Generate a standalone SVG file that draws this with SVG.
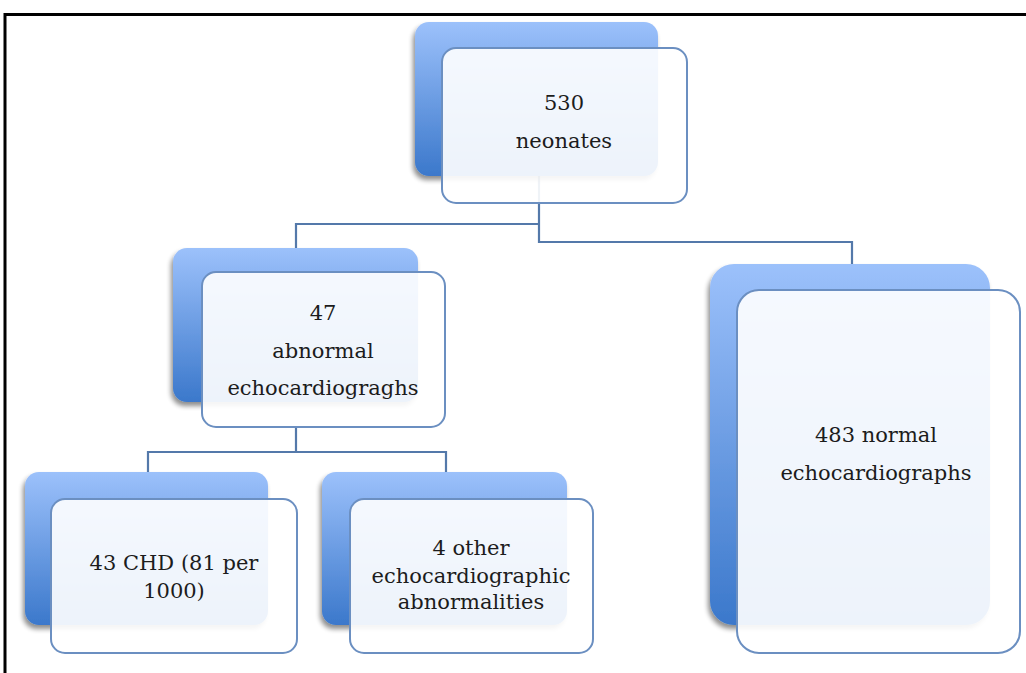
<svg xmlns="http://www.w3.org/2000/svg" width="1026" height="673" viewBox="0 0 1026 673">
<defs>
<linearGradient id="bg" x1="0" y1="0" x2="0" y2="1">
<stop offset="0" stop-color="#9cc1fb"/>
<stop offset="1" stop-color="#3b78cb"/>
</linearGradient>
<filter id="sh" x="-10%" y="-10%" width="120%" height="125%">
<feGaussianBlur in="SourceAlpha" stdDeviation="2.5"/>
<feOffset dx="-2" dy="4" result="b"/>
<feComponentTransfer><feFuncA type="linear" slope="0.45"/></feComponentTransfer>
<feMerge><feMergeNode/><feMergeNode in="SourceGraphic"/></feMerge>
</filter>
</defs>
<style>
.back{fill:url(#bg);filter:url(#sh)}
.front{fill:#ffffff;fill-opacity:0.91;stroke:#6b8fc1;stroke-width:2}
.conn{fill:none;stroke:#5479aa;stroke-width:2.2}
.t{font-family:"DejaVu Serif","Liberation Serif",serif;font-size:21px;fill:#1c1c1c;text-anchor:middle}
.frame{fill:none;stroke:#000;stroke-width:3}
</style>
<rect width="1026" height="673" fill="#fff"/>
<path class="frame" d="M5 673 V14.5 H1026"/>
<g id="connectors">
<path class="conn" d="M539 176 V242 H852 V264"/>
<path class="conn" d="M539 224 H296 V249"/>
<path class="conn" d="M296 427 V452 H148 V473"/>
<path class="conn" d="M296 452 H446 V473"/>
</g>
<g id="n530">
<rect class="back" x="415" y="22" width="243" height="154" rx="14"/>
<rect class="front" x="442" y="48" width="245" height="155" rx="14"/>
<text class="t" x="564" y="110">530</text>
<text class="t" x="564" y="148">neonates</text>
</g>
<g id="n47">
<rect class="back" x="173" y="248" width="245" height="154" rx="14"/>
<rect class="front" x="202" y="272" width="243" height="155" rx="14"/>
<text class="t" x="323" y="320">47</text>
<text class="t" x="323" y="358">abnormal</text>
<text class="t" x="323" y="395">echocardiograghs</text>
</g>
<g id="n483">
<rect class="back" x="710" y="264" width="280" height="361" rx="24"/>
<rect class="front" x="737" y="290" width="283" height="363" rx="22"/>
<text class="t" x="876" y="442">483 normal</text>
<text class="t" x="876" y="480">echocardiographs</text>
</g>
<g id="n43">
<rect class="back" x="25" y="472" width="243" height="153" rx="14"/>
<rect class="front" x="51" y="499" width="246" height="154" rx="14"/>
<text class="t" x="174" y="570">43 CHD (81 per</text>
<text class="t" x="174" y="598">1000)</text>
</g>
<g id="n4">
<rect class="back" x="322" y="472" width="245" height="153" rx="14"/>
<rect class="front" x="350" y="499" width="243" height="154" rx="14"/>
<text class="t" x="471" y="555">4 other</text>
<text class="t" x="471" y="583">echocardiographic</text>
<text class="t" x="471" y="609">abnormalities</text>
</g>
</svg>
